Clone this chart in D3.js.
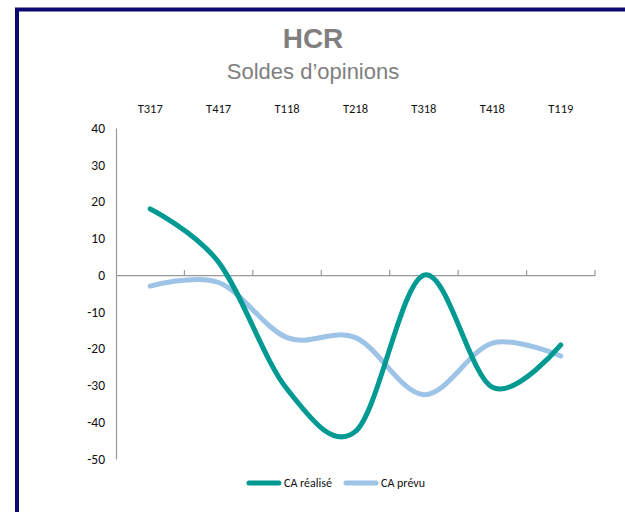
<!DOCTYPE html>
<html>
<head>
<meta charset="utf-8">
<script src="https://cdn.jsdelivr.net/npm/d3@7"></script>
<style>
  body { margin: 0; background: #fff; }
  svg { display: block; }
</style>
</head>
<body>
<svg id="chart" width="625" height="512"></svg>
<script>
// data
var quarters = ["T317", "T417", "T118", "T218", "T318", "T418", "T119"];
var caRealise = [18, 3.5, -31, -42.5, 0, -30.5, -19];
var caPrevu = [-3, -2, -17, -17, -32.5, -18.5, -22];
var yTicks = [40, 30, 20, 10, 0, -10, -20, -30, -40, -50];

var svg = d3.select("#chart");

// frame
svg.append("path")
  .attr("d", "M17,512 V9.5 H625")
  .attr("fill", "none")
  .attr("stroke", "#0b0b6f")
  .attr("stroke-width", 4);

// titles
svg.append("text")
  .attr("x", 313).attr("y", 48)
  .attr("text-anchor", "middle")
  .style("font-family", "Liberation Sans, Arial, sans-serif")
  .style("font-weight", "bold")
  .style("font-size", "28px")
  .attr("fill", "#7f7f7f")
  .text("HCR");

svg.append("text")
  .attr("x", 313).attr("y", 79)
  .attr("text-anchor", "middle")
  .style("font-family", "Liberation Sans, Arial, sans-serif")
  .style("font-size", "22px")
  .attr("fill", "#7f7f7f")
  .text("Soldes d\u2019opinions");

var x = d3.scaleBand()
  .domain(quarters)
  .range([116, 595]);

var y = d3.scaleLinear()
  .domain([-50, 40])
  .range([459, 128]);

var labelFont = "Carlito, 'Liberation Sans Narrow', Roboto, sans-serif";

// y axis
var yAxis = svg.append("g")
  .attr("transform", "translate(116,0)")
  .call(d3.axisLeft(y).tickValues(yTicks).tickSize(0).tickPadding(11)
    .tickFormat(function(d) { return String(d); }));
yAxis.select(".domain").attr("stroke", "#999").attr("stroke-width", 1.2);
yAxis.selectAll("text")
  .style("font-family", labelFont)
  .style("font-size", "13.5px")
  .attr("fill", "#111");

// x axis at zero, labels on top
var xAxis = svg.append("g")
  .attr("transform", "translate(0," + y(0) + ")")
  .call(d3.axisBottom(x).tickSize(0).tickFormat(""));
xAxis.select(".domain").attr("stroke", "#999").attr("stroke-width", 1.2);

svg.append("g")
  .selectAll("line")
  .data(quarters)
  .enter()
  .append("line")
  .attr("x1", function(d) { return x(d) + x.bandwidth(); })
  .attr("x2", function(d) { return x(d) + x.bandwidth(); })
  .attr("y1", y(0))
  .attr("y2", y(0) - 5)
  .attr("stroke", "#999")
  .attr("stroke-width", 1.2);

svg.append("g")
  .selectAll("text")
  .data(quarters)
  .enter()
  .append("text")
  .attr("x", function(d) { return x(d) + x.bandwidth() / 2; })
  .attr("y", 113)
  .attr("text-anchor", "middle")
  .style("font-family", labelFont)
  .style("font-size", "12.5px")
  .attr("fill", "#111")
  .text(function(d) { return d; });

// lines
var line = d3.line()
  .x(function(d, i) { return x(quarters[i]) + x.bandwidth() / 2; })
  .y(function(d) { return y(d); })
  .curve(d3.curveCardinal.tension(0));

var series = [
  { name: "CA prévu", values: caPrevu, color: "#9dc3e6" },
  { name: "CA réalisé", values: caRealise, color: "#009a93" }
];

svg.append("g")
  .selectAll("path")
  .data(series)
  .enter()
  .append("path")
  .attr("d", function(d) { return line(d.values); })
  .attr("fill", "none")
  .attr("stroke", function(d) { return d.color; })
  .attr("stroke-width", 5)
  .attr("stroke-linecap", "round");

// legend
var legend = [
  { name: "CA réalisé", color: "#009a93", x: 249 },
  { name: "CA prévu", color: "#9dc3e6", x: 346 }
];

var lg = svg.append("g")
  .selectAll("g")
  .data(legend)
  .enter()
  .append("g")
  .attr("transform", function(d) { return "translate(" + d.x + ",484)"; });

lg.append("line")
  .attr("x1", 0).attr("x2", 30)
  .attr("y1", -1).attr("y2", -1)
  .attr("stroke", function(d) { return d.color; })
  .attr("stroke-width", 5)
  .attr("stroke-linecap", "round");

lg.append("text")
  .attr("x", 35).attr("y", 3)
  .style("font-family", labelFont)
  .style("font-size", "12px")
  .attr("fill", "#111")
  .text(function(d) { return d.name; });
</script>
</body>
</html>
